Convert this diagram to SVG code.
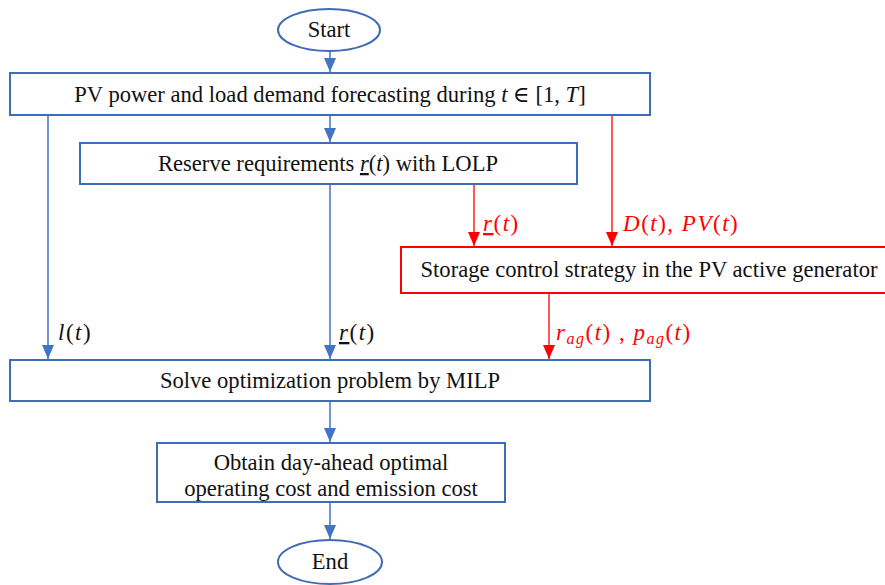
<svg xmlns="http://www.w3.org/2000/svg" width="885" height="585" viewBox="0 0 885 585">
<style>
.box{fill:#fff;stroke:#3f6cb5;stroke-width:2}
.rbox{fill:#fff;stroke:#ff0000;stroke-width:2}
.t{font-family:'Liberation Serif','Times New Roman','DejaVu Serif',serif;font-size:22.6px;fill:#111;text-anchor:middle}
.m{font-family:'Liberation Serif','Times New Roman','DejaVu Serif',serif;font-size:23px;fill:#111;letter-spacing:1.5px}
.mr{font-family:'Liberation Serif','Times New Roman','DejaVu Serif',serif;font-size:23px;fill:#ff0000;letter-spacing:1.5px}
.i{font-style:italic}
.u{text-decoration:underline}
.bl{stroke:#4472c4;stroke-width:1.5;fill:none}
.rl{stroke:#ff0000;stroke-width:1.3;fill:none}
</style>
<defs>
<marker id="ab" markerWidth="14" markerHeight="12" refX="14" refY="6" orient="auto" markerUnits="userSpaceOnUse" viewBox="0 0 14 12"><path d="M0,0 L14,6 L0,12 Z" fill="#4472c4"/></marker>
<marker id="ar" markerWidth="14" markerHeight="12" refX="14" refY="6" orient="auto" markerUnits="userSpaceOnUse" viewBox="0 0 14 12"><path d="M0,0 L14,6 L0,12 Z" fill="#ff0000"/></marker>
</defs>
<g id="connectors">
<line class="bl" x1="330" y1="51" x2="330" y2="72" marker-end="url(#ab)"/>
<line class="bl" x1="330" y1="116" x2="330" y2="142" marker-end="url(#ab)"/>
<line class="bl" x1="48" y1="116" x2="48" y2="359" marker-end="url(#ab)"/>
<line class="bl" x1="330" y1="185" x2="330" y2="359" marker-end="url(#ab)"/>
<line class="rl" x1="474" y1="185" x2="474" y2="246" marker-end="url(#ar)"/>
<line class="rl" x1="612" y1="116" x2="612" y2="246" marker-end="url(#ar)"/>
<line class="rl" x1="549" y1="294" x2="549" y2="359" marker-end="url(#ar)"/>
<line class="bl" x1="330" y1="402" x2="330" y2="442" marker-end="url(#ab)"/>
<line class="bl" x1="330" y1="503" x2="330" y2="539" marker-end="url(#ab)"/>
</g>
<g id="labels">
<text class="m i" x="58" y="340">l<tspan font-style="normal">(</tspan>t<tspan font-style="normal">)</tspan></text>
<text class="m i" x="339" y="340"><tspan class="u">r</tspan><tspan font-style="normal">(</tspan>t<tspan font-style="normal">)</tspan></text>
<text class="mr i" x="483" y="231"><tspan class="u">r</tspan><tspan font-style="normal">(</tspan>t<tspan font-style="normal">)</tspan></text>
<text class="mr i" x="623" y="231">D<tspan font-style="normal">(</tspan>t<tspan font-style="normal">), </tspan>PV<tspan font-style="normal">(</tspan>t<tspan font-style="normal">)</tspan></text>
<text class="mr i" x="556" y="340">r<tspan font-size="16" dy="4">ag</tspan><tspan font-style="normal" dy="-4">(</tspan>t<tspan font-style="normal">) , </tspan>p<tspan font-size="16" dy="4">ag</tspan><tspan font-style="normal" dy="-4">(</tspan>t<tspan font-style="normal">)</tspan></text>
</g>
<g id="start">
<ellipse cx="329" cy="30" rx="51" ry="21" fill="#fff" stroke="#3f6cb5" stroke-width="2"/>
<text class="t" x="329" y="37">Start</text>
</g>
<g id="forecast">
<rect class="box" x="10" y="73" width="640" height="42"/>
<text class="t" x="330" y="102">PV power and load demand forecasting during <tspan font-style="italic">t</tspan> ∈ [1, <tspan font-style="italic">T</tspan>]</text>
</g>
<g id="reserve">
<rect class="box" x="80" y="143" width="497" height="41"/>
<text class="t" x="328" y="171">Reserve requirements <tspan class="u" font-style="italic">r</tspan>(<tspan font-style="italic">t</tspan>) with LOLP</text>
</g>
<g id="storage">
<rect class="rbox" x="401" y="247" width="486" height="46"/>
<text class="t" x="649" y="277">Storage control strategy in the PV active generator</text>
</g>
<g id="solve">
<rect class="box" x="10" y="360" width="640" height="41"/>
<text class="t" x="330" y="388">Solve optimization problem by MILP</text>
</g>
<g id="obtain">
<rect class="box" x="157" y="443" width="348" height="59"/>
<text class="t" x="331" y="470">Obtain day-ahead optimal</text>
<text class="t" x="331" y="496">operating cost and emission cost</text>
</g>
<g id="end">
<ellipse cx="330" cy="562" rx="52" ry="22" fill="#fff" stroke="#3f6cb5" stroke-width="2"/>
<text class="t" x="330" y="569">End</text>
</g>
</svg>
